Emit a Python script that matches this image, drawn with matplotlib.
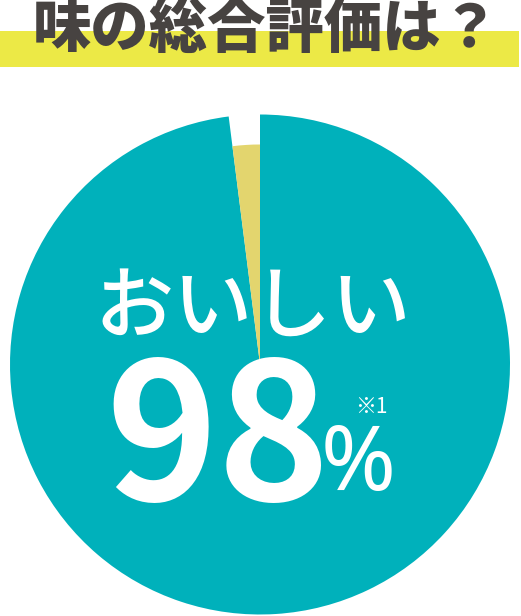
import matplotlib
matplotlib.use("Agg")
import matplotlib.pyplot as plt
from matplotlib.patches import Rectangle

# Data
labels = ["おいしい", "その他"]
values = [98, 2]
title_text = "味の総合評価は？"
main_label = "おいしい"
pct_text = "98"
note_text = "※1"

TEAL = "#00b1bb"
YELLOW_W = "#e3d56e"
BAND = "#ece946"
DARK = "#474341"

plt.rcParams['font.family'] = ['Noto Sans CJK JP', 'DejaVu Sans']

W, H = 521, 616
fig = plt.figure(figsize=(W / 100, H / 100), dpi=100)
ax = fig.add_axes([0, 0, 1, 1])

def py(y):
    return H - y

cx, cy, R = 260, py(364.5), 250

# Main pie (teal big, gap for small)
ax.pie(values, colors=[TEAL, "none"], startangle=90, counterclock=False,
       radius=R, center=(cx, cy), wedgeprops=dict(linewidth=0))
# Small slice with smaller radius
ax.pie(values, colors=["none", YELLOW_W], startangle=90, counterclock=False,
       radius=R * 0.88, center=(cx, cy), wedgeprops=dict(linewidth=0))

# Title band
ax.add_patch(Rectangle((0, py(67)), 519, 36, facecolor=BAND, edgecolor="none", zorder=1))
ax.text(266, py(30), title_text, fontsize=42, fontweight='heavy', color=DARK,
        ha='center', va='center', zorder=3)

# Center texts
ax.text(253, py(309), main_label, fontsize=57, fontweight='medium', color='white',
        ha='center', va='center', zorder=3)
ax.text(218, py(500), pct_text, fontsize=137, fontweight='bold', color='white',
        ha='center', va='baseline', zorder=3)
ax.text(358, py(490), "%", fontsize=65, fontweight='light', color='white',
        ha='center', va='baseline', zorder=3, family=['Noto Sans', 'DejaVu Sans'])
ax.text(371, py(413), note_text, fontsize=15, color='white',
        ha='center', va='baseline', zorder=3)

ax.set_xlim(0, W)
ax.set_ylim(0, H)
ax.set_aspect('auto')
ax.axis('off')

fig.savefig("out.png", dpi=100, facecolor='white')
